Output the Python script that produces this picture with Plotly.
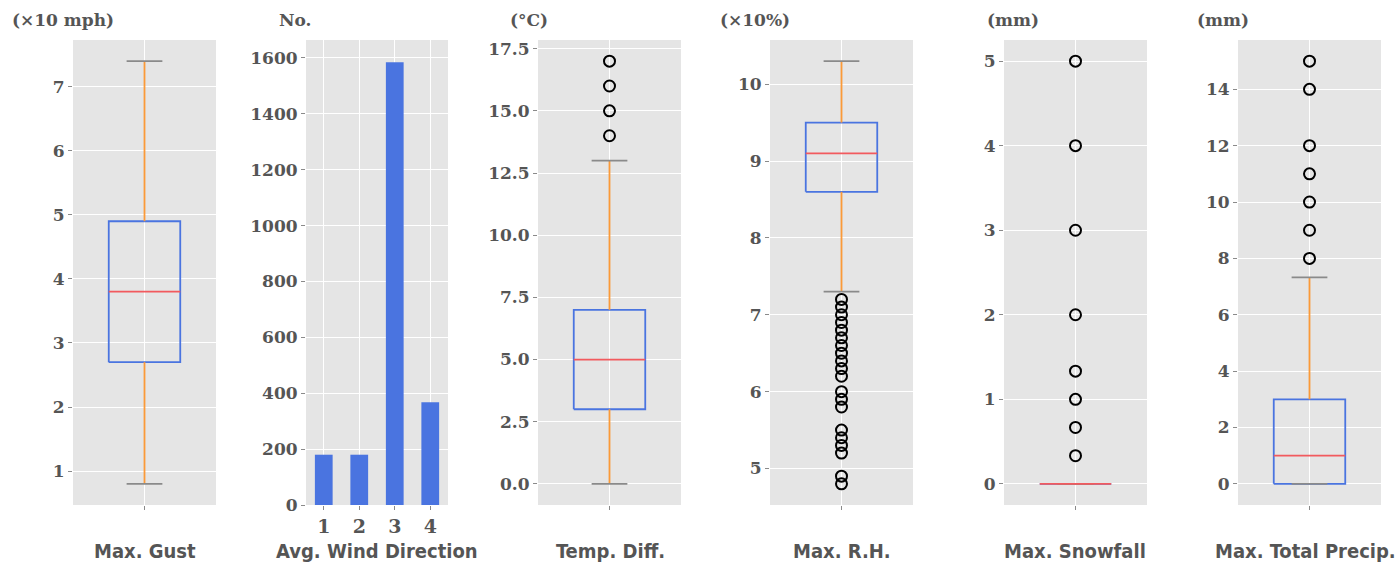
import plotly.graph_objects as go

# ---------------- data ----------------
box_labels = ["Max. Gust", "Temp. Diff.", "Max. R.H.", "Max. Snowfall", "Max. Total Precip."]
box_units = ["(×10 mph)", "(°C)", "(×10%)", "(mm)", "(mm)"]
q1 = [2.7, 3.0, 8.6, 0.0, 0.0]
median = [3.8, 5.0, 9.1, 0.0, 1.0]
q3 = [4.9, 7.0, 9.5, 0.0, 3.0]
whisker_low = [0.8, 0.0, 7.3, 0.0, 0.0]
whisker_high = [7.4, 13.0, 10.3, 0.0, 7.33]
outliers_gust = []
outliers_temp = [14, 15, 16, 17]
outliers_rh = [7.2, 7.1, 7.0, 6.9, 6.8, 6.7, 6.6, 6.5, 6.4, 6.3, 6.2,
               6.0, 5.9, 5.8, 5.5, 5.4, 5.3, 5.2, 4.9, 4.8]
outliers_snow = [5, 4, 3, 2, 1.333, 1, 0.667, 0.333]
outliers_precip = [15, 14, 12, 11, 10, 9, 8]
outliers = [outliers_gust, outliers_temp, outliers_rh, outliers_snow, outliers_precip]
y_dticks = [1, 2.5, 1, 1, 2]

wind_dir = [1, 2, 3, 4]
wind_counts = [180, 180, 1585, 368]
wind_label = "Avg. Wind Direction"
wind_unit = "No."

# ---------------- style ----------------
W, H = 1396, 563
PT, PB = 40, 505
BG = "#E5E5E5"
BLUE = "#4A74E0"
RED = "#F25A5E"
ORANGE = "#FB9A38"
CAPGRAY = "#8A8A8A"
TXT = "#555555"
TICKFONT = dict(family="DejaVu Serif", size=17, color=TXT, weight="bold")
LABELFONT = dict(family="DejaVu Sans Condensed, Liberation Sans Narrow, Liberation Sans",
                 size=20, color=TXT, weight="bold")

panel_px = [(73, 216), (306, 448), (538, 681), (770, 913), (1004, 1147), (1238, 1381)]
unit_left_px = [10, 277, 508, 718, 985, 1195]
label_center_px = [145, 377, 610, 842, 1075, 1305]

fig = go.Figure()
annotations = []

def axis_common():
    return dict(showgrid=True, gridcolor="white", gridwidth=1.3, zeroline=False,
                showline=False, ticks="outside", ticklen=4, tickwidth=1,
                tickcolor=CAPGRAY, tickfont=TICKFONT)

panels = ["box0", "bar", "box1", "box2", "box3", "box4"]
layout_axes = {}
LW = 1.8
for i, kind in enumerate(panels):
    n = i + 1
    xa = "xaxis" if n == 1 else f"xaxis{n}"
    ya = "yaxis" if n == 1 else f"yaxis{n}"
    xr = "x" if n == 1 else f"x{n}"
    yr = "y" if n == 1 else f"y{n}"
    x0, x1 = panel_px[i]
    dom = [x0 / W, x1 / W]
    if kind == "bar":
        fig.add_trace(go.Bar(x=wind_dir, y=wind_counts, width=0.5, marker_color=BLUE,
                             marker_line_width=0, xaxis=xr, yaxis=yr, showlegend=False))
        ymax = max(wind_counts) * 1.05
        xaxis = dict(axis_common(), domain=dom, anchor=yr, range=[0.5, 4.5],
                     tickvals=wind_dir, tickfont=dict(TICKFONT, size=19))
        yaxis = dict(axis_common(), domain=[0, 1], anchor=xr, range=[0, ymax], dtick=200)
        label, unit = wind_label, wind_unit
    else:
        b = int(kind[3:])
        lo = min([whisker_low[b]] + outliers[b])
        hi = max([whisker_high[b]] + outliers[b])
        pad = (hi - lo) * 0.05
        common = dict(xaxis=xr, yaxis=yr, showlegend=False, hoverinfo="skip", mode="lines")
        fig.add_trace(go.Scatter(x=[0.75, 1.25, 1.25, 0.75, 0.75],
                                 y=[q1[b], q1[b], q3[b], q3[b], q1[b]],
                                 line=dict(color=BLUE, width=LW), **common))
        fig.add_trace(go.Scatter(x=[1, 1], y=[q1[b], whisker_low[b]],
                                 line=dict(color=ORANGE, width=LW), **common))
        fig.add_trace(go.Scatter(x=[1, 1], y=[q3[b], whisker_high[b]],
                                 line=dict(color=ORANGE, width=LW), **common))
        fig.add_trace(go.Scatter(x=[0.875, 1.125], y=[whisker_low[b]] * 2,
                                 line=dict(color=CAPGRAY, width=LW), **common))
        fig.add_trace(go.Scatter(x=[0.875, 1.125], y=[whisker_high[b]] * 2,
                                 line=dict(color=CAPGRAY, width=LW), **common))
        fig.add_trace(go.Scatter(x=[0.75, 1.25], y=[median[b]] * 2,
                                 line=dict(color=RED, width=LW), **common))
        if outliers[b]:
            fig.add_trace(go.Scatter(x=[1] * len(outliers[b]), y=outliers[b], mode="markers",
                                     marker=dict(symbol="circle-open", size=11,
                                                 color="black", line=dict(width=2, color="black")),
                                     xaxis=xr, yaxis=yr, showlegend=False))
        xaxis = dict(axis_common(), domain=dom, anchor=yr, range=[0.5, 1.5],
                     tickvals=[1], ticktext=[""])
        yaxis = dict(axis_common(), domain=[0, 1], anchor=xr, range=[lo - pad, hi + pad],
                     dtick=y_dticks[b])
        if b == 1:
            yaxis["tickformat"] = ".1f"
        label, unit = box_labels[b], box_units[b]
    layout_axes[xa] = xaxis
    layout_axes[ya] = yaxis
    annotations.append(dict(text=label, xref="paper", yref="paper",
                            x=label_center_px[i] / W, y=(PB - 551) / (PB - PT),
                            xanchor="center", yanchor="middle",
                            showarrow=False, font=LABELFONT))
    annotations.append(dict(text=unit, xref="paper", yref="paper",
                            x=unit_left_px[i] / W, y=(PB - 20) / (PB - PT),
                            xanchor="left", yanchor="middle", showarrow=False, font=TICKFONT))

fig.update_layout(width=W, height=H, margin=dict(l=0, r=0, t=PT, b=H - PB),
                  paper_bgcolor="white", plot_bgcolor=BG, showlegend=False,
                  annotations=annotations, **layout_axes)

fig.write_html("out.html")
